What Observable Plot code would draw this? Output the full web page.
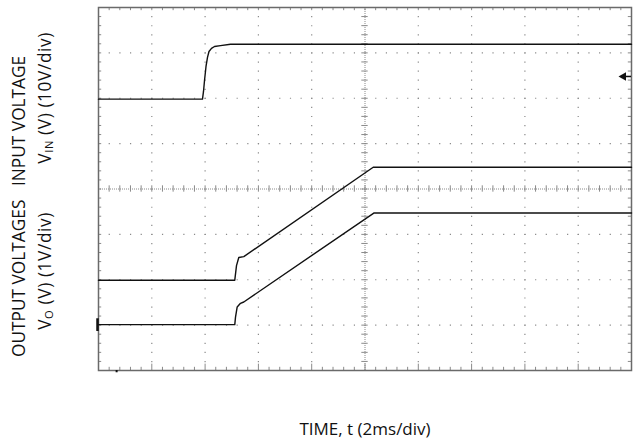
<!DOCTYPE html>
<html>
<head>
<meta charset="utf-8">
<script src="https://cdn.jsdelivr.net/npm/d3@7"></script>
<script src="https://cdn.jsdelivr.net/npm/@observablehq/plot@0.6"></script>
<style>
  html, body { margin: 0; padding: 0; background: #fff; }
  svg { font-family: "Open Sans", sans-serif; }
</style>
</head>
<body>
<div id="chart"></div>
<script>
// Screen units: time in divisions (2 ms/div), voltage in divisions.
const inputT = [0, 1.951, 1.970, 1.989, 2.017, 2.045, 2.073, 2.120, 2.176, 2.289, 2.477, 10];
const inputV = [5.98, 5.98, 6.15, 6.39, 6.70, 6.90, 7.03, 7.10, 7.14, 7.16, 7.19, 7.19];

const out1T = [0, 2.557, 2.589, 2.632, 2.726, 5.154, 10];
const out1V = [1.99, 1.99, 2.31, 2.49, 2.51, 4.48, 4.48];

const out2T = [0, 2.557, 2.570, 2.602, 2.664, 2.726, 5.165, 10];
const out2V = [1.01, 1.01, 1.17, 1.40, 1.48, 1.51, 3.47, 3.47];

const xDivs = 10, yDivs = 8;
const inputRefLevel = [6.48];
const outputGround = [1.0];
const triggerTime = [0.34];

const xLabel = "TIME, t (2ms/div)";
const yLabelTop = ["INPUT VOLTAGE", "V", "IN", " (V) (10V/div)"];
const yLabelBottom = ["OUTPUT VOLTAGES", "V", "O", " (V) (1V/div)"];

const majorX = d3.range(1, xDivs);
const majorY = d3.range(1, yDivs);
const minorX = d3.range(1, xDivs * 5).map(k => k / 5);
const minorY = d3.range(1, yDivs * 5).map(k => k / 5);

const mk = (T, V) => T.map((t, i) => ({t, v: V[i]}));
const inputData = mk(inputT, inputV);
const out1Data = mk(out1T, out1V);
const out2Data = mk(out2T, out2V);

const gridColor = "#8a8a8a";
const frameColor = "#6a6a6a";

const svg = Plot.plot({
  width: 636,
  height: 440,
  marginLeft: 98,
  marginRight: 5,
  marginTop: 7,
  marginBottom: 70,
  x: {domain: [0, xDivs], axis: null},
  y: {domain: [0, yDivs], axis: null},
  marks: [
    // dotted grid
    Plot.ruleY(majorY.filter(d => d !== yDivs / 2), {stroke: gridColor, strokeWidth: 1.2, strokeDasharray: "1.2 9.46"}),
    Plot.ruleX(majorX.filter(d => d !== xDivs / 2), {stroke: gridColor, strokeWidth: 1.2, strokeDasharray: "1.2 7.875"}),
    // center lines
    Plot.ruleY([yDivs / 2], {stroke: gridColor, strokeWidth: 1, strokeDasharray: "1 1"}),
    Plot.ruleX([xDivs / 2], {stroke: gridColor, strokeWidth: 1, strokeDasharray: "1 1"}),
    Plot.ruleX(minorX, {x: d => d, y1: yDivs / 2 - 0.07, y2: yDivs / 2 + 0.07, stroke: gridColor, strokeWidth: 1}),
    Plot.ruleY(minorY, {y: d => d, x1: xDivs / 2 - 0.06, x2: xDivs / 2 + 0.06, stroke: gridColor, strokeWidth: 1}),
    // border ticks
    Plot.ruleX(minorX, {x: d => d, y1: yDivs, y2: yDivs - 0.07, stroke: gridColor, strokeWidth: 1}),
    Plot.ruleX(minorX, {x: d => d, y1: 0, y2: d => (Number.isInteger(d) ? 0.14 : 0.07), stroke: gridColor, strokeWidth: 1}),
    Plot.ruleY(minorY, {y: d => d, x1: 0, x2: 0.06, stroke: gridColor, strokeWidth: 1}),
    Plot.ruleY(minorY, {y: d => d, x1: xDivs, x2: xDivs - 0.06, stroke: gridColor, strokeWidth: 1}),
    Plot.frame({stroke: frameColor, strokeWidth: 1.5}),
    // traces
    Plot.line(inputData, {x: "t", y: "v", stroke: "#111", strokeWidth: 1.4}),
    Plot.line(out1Data, {x: "t", y: "v", stroke: "#111", strokeWidth: 1.4}),
    Plot.line(out2Data, {x: "t", y: "v", stroke: "#111", strokeWidth: 1.4}),
    // scope markers
    Plot.ruleY(inputRefLevel, {x1: xDivs - 0.16, x2: xDivs, stroke: "#111", strokeWidth: 1.5}),
    Plot.dot(inputRefLevel, {x: xDivs, y: d => d, symbol: "triangle", rotate: -90, r: 3.2, fill: "#111", stroke: "none", dx: -8}),
    Plot.ruleX([0], {y1: outputGround[0] - 0.14, y2: outputGround[0] + 0.14, stroke: "#111", strokeWidth: 2.5, dx: -1}),
    Plot.ruleX(triggerTime, {x: d => d, y1: 0, y2: -0.05, stroke: "#111", strokeWidth: 2})
  ]
});
document.getElementById("chart").appendChild(svg);

const s = d3.select(svg).style("overflow", "visible");
s.append("text")
  .attr("x", 365).attr("y", 435)
  .attr("text-anchor", "middle")
  .attr("font-size", 17)
  .attr("fill", "#111")
  .text(xLabel);

function rotLabel(x, y, str, size, anchor) {
  s.append("text")
    .attr("transform", `translate(${x},${y}) rotate(-90)`)
    .attr("text-anchor", anchor)
    .attr("font-size", size)
    .attr("fill", "#111")
    .text(str);
}
function rotSubLabel(x, y, parts, size, anchor) {
  const t = s.append("text")
    .attr("transform", `translate(${x},${y}) rotate(-90)`)
    .attr("text-anchor", anchor)
    .attr("font-size", size)
    .attr("letter-spacing", 0.6)
    .attr("fill", "#111");
  t.append("tspan").text(parts[1]);
  t.append("tspan").attr("font-size", size * 0.65).attr("dy", 2).text(parts[2]);
  t.append("tspan").attr("dy", -2).text(parts[3]);
}
rotLabel(25, 186, yLabelTop[0], 17.3, "start");
rotSubLabel(51, 32, yLabelTop, 17.3, "end");
rotLabel(25, 357, yLabelBottom[0], 17.3, "start");
rotSubLabel(51, 212, yLabelBottom, 17.3, "end");
</script>
</body>
</html>
